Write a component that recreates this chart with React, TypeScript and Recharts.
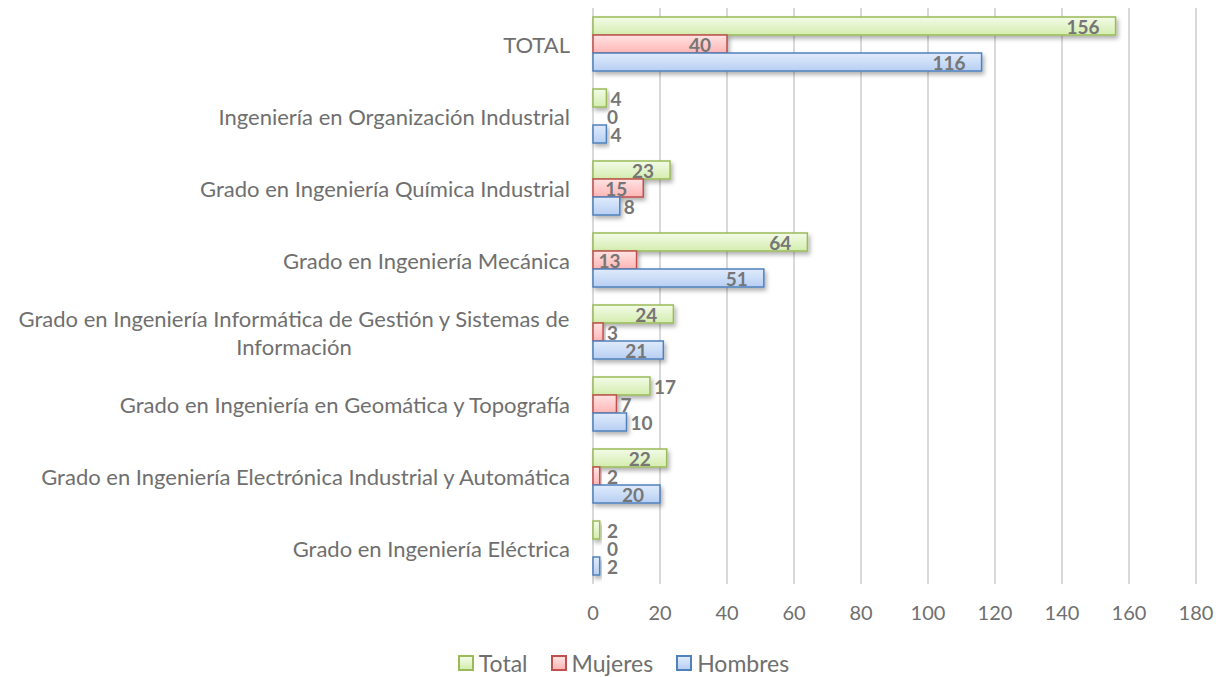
import React from 'react';
import { BarChart, Bar, XAxis, YAxis, CartesianGrid, LabelList, Rectangle } from 'recharts';

const categories = [
  'TOTAL',
  'Ingeniería en Organización Industrial',
  'Grado en Ingeniería Química Industrial',
  'Grado en Ingeniería Mecánica',
  'Grado en Ingeniería Informática de Gestión y Sistemas de Información',
  'Grado en Ingeniería en Geomática y Topografía',
  'Grado en Ingeniería Electrónica Industrial y Automática',
  'Grado en Ingeniería Eléctrica',
];
const total = [156, 4, 23, 64, 24, 17, 22, 2];
const mujeres = [40, 0, 15, 13, 3, 7, 2, 0];
const hombres = [116, 4, 8, 51, 21, 10, 20, 2];
const xTicks = [0, 20, 40, 60, 80, 100, 120, 140, 160, 180];

const FONT = 'Lato, "Open Sans", sans-serif';
const TEXT = '#6f6f6f';

const series = [
  { key: 'total', name: 'Total', stroke: '#9bbb59', top: '#f3fbe8', bottom: '#d4edae', minInside: 60 },
  { key: 'mujeres', name: 'Mujeres', stroke: '#c0504d', top: '#ffe3e3', bottom: '#ffb5b5', minInside: 40 },
  { key: 'hombres', name: 'Hombres', stroke: '#4f81bd', top: '#e0ebfb', bottom: '#b7cff3', minInside: 60 },
];

const data = categories.map((name, i) => ({
  name,
  total: total[i],
  mujeres: mujeres[i],
  hombres: hombres[i],
}));

let ctx: CanvasRenderingContext2D | null = null;
const measure = (s: string, size: number) => {
  if (!ctx) ctx = document.createElement('canvas').getContext('2d');
  if (!ctx) return s.length * size * 0.45;
  ctx.font = `${size}px Lato`;
  return ctx.measureText(s).width;
};

// greedy wrap by characters
const wrap = (s: string, max: number) => {
  const lines: string[] = [];
  let cur = '';
  s.split(' ').forEach(w => {
    const next = cur ? cur + ' ' + w : w;
    if (next.length > max && cur) {
      lines.push(cur);
      cur = w;
    } else cur = next;
  });
  if (cur) lines.push(cur);
  return lines;
};

const CAT_SIZE = 22;

const CategoryTick = (props: any) => {
  const { x, y, payload } = props;
  const right = x - 23;
  const lines = wrap(payload.value, 56);
  if (lines.length === 1) {
    return (
      <text x={right} y={y} textAnchor="end" dominantBaseline="central" fill={TEXT} fontSize={CAT_SIZE} fontFamily={FONT}>
        {payload.value}
      </text>
    );
  }
  const cx = right - measure(lines[0], CAT_SIZE) / 2;
  return (
    <text fill={TEXT} fontSize={CAT_SIZE} fontFamily={FONT} textAnchor="middle" dominantBaseline="central">
      {lines.map((l, i) => (
        <tspan key={i} x={cx} y={y + (i - (lines.length - 1) / 2) * 28}>{l}</tspan>
      ))}
    </text>
  );
};

const makeLabel = (minInside: number) => (props: any) => {
  const { x, y, width, height, value } = props;
  const end = x + width;
  const inside = width >= minInside;
  const tx = inside ? end - 16 : Math.max(end + 4, x + 14);
  return (
    <text
      x={tx}
      y={y + height / 2}
      textAnchor={inside ? 'end' : 'start'}
      dominantBaseline="central"
      fill="#767676"
      fontWeight={700}
      fontSize={19}
      fontFamily={FONT}
    >
      {value}
    </text>
  );
};

// zero values keep a hairline slot so their label still shows, but draw nothing
const BarShape = (p: any) => (p.width < 0.5 ? <g /> : <Rectangle {...p} />);

const LegendBox = () => (
  <div
    style={{
      position: 'absolute',
      left: 0,
      top: 651,
      width: 1232,
      display: 'flex',
      justifyContent: 'center',
      gap: 23,
      paddingLeft: 15,
      boxSizing: 'border-box',
      fontFamily: FONT,
      fontSize: 23,
      lineHeight: '24px',
      color: TEXT,
    }}
  >
    {series.map(s => (
      <div key={s.key} style={{ display: 'flex', alignItems: 'center' }}>
        <span
          style={{
            width: 12,
            height: 12,
            border: `2px solid ${s.stroke}`,
            background: `linear-gradient(${s.top}, ${s.bottom})`,
            marginRight: 5,
            display: 'inline-block',
          }}
        />
        <span>{s.name}</span>
      </div>
    ))}
  </div>
);

export default function App() {
  return (
    <div style={{ position: 'absolute', left: 0, top: 0, width: 1232, height: 677, background: '#fff' }}>
      <BarChart
        width={1232}
        height={677}
        data={data}
        layout="vertical"
        margin={{ top: 8, right: 36, bottom: 57, left: 0 }}
        barCategoryGap="12.5%"
        barGap={0}
      >
        <defs>
          {series.map(s => (
            <linearGradient key={s.key} id={`g-${s.key}`} x1="0" y1="0" x2="0" y2="1">
              <stop offset="0%" stopColor={s.top} />
              <stop offset="100%" stopColor={s.bottom} />
            </linearGradient>
          ))}
          <filter id="shadow" x="-10%" y="-30%" width="130%" height="190%">
            <feDropShadow dx="2" dy="3" stdDeviation="2" floodColor="#000" floodOpacity="0.3" />
          </filter>
        </defs>
        <CartesianGrid horizontal={false} stroke="#d9d9d9" strokeWidth={2} />
        <XAxis
          type="number"
          domain={[0, 180]}
          ticks={xTicks}
          height={36}
          axisLine={false}
          tickLine={false}
          tickSize={0}
          tickMargin={22}
          tick={{ fill: TEXT, fontSize: 20, fontFamily: FONT }}
        />
        <YAxis
          type="category"
          dataKey="name"
          width={593}
          axisLine={false}
          tickLine={false}
          tickSize={0}
          tickMargin={0}
          interval={0}
          tick={<CategoryTick />}
        />
        {series.map(s => (
          <Bar
            key={s.key}
            dataKey={s.key}
            name={s.name}
            fill={`url(#g-${s.key})`}
            stroke={s.stroke}
            strokeWidth={1.5}
            filter="url(#shadow)"
            minPointSize={(v: number) => (v === 0 ? 0.01 : 0)}
            shape={<BarShape />}
            isAnimationActive={false}
          >
            <LabelList dataKey={s.key} content={makeLabel(s.minInside)} />
          </Bar>
        ))}
      </BarChart>
      <LegendBox />
    </div>
  );
}
